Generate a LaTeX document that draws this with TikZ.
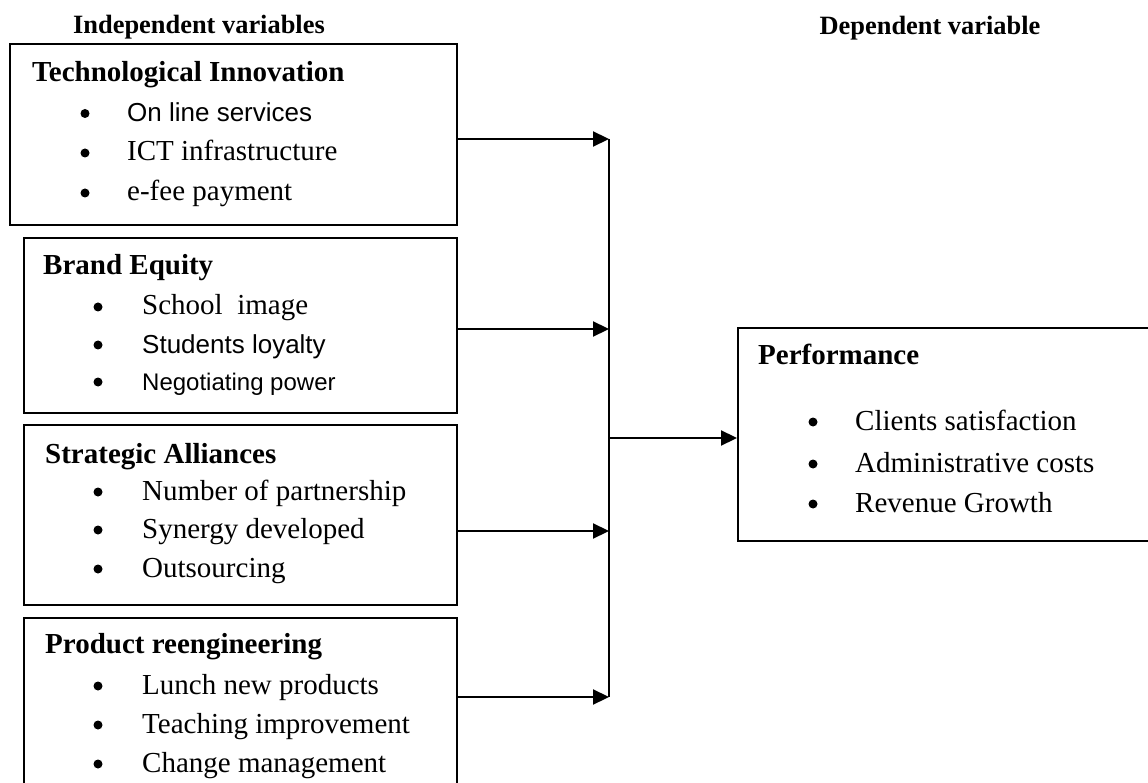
\documentclass[tikz,border=0pt]{standalone}
\usepackage{fontspec}
\setmainfont{Liberation Serif}
\newfontfamily\arialfont{Liberation Sans}
\usetikzlibrary{arrows.meta}
\begin{document}
\begin{tikzpicture}[x=1pt,y=-1pt,
  panel/.style={draw, line width=1.7pt, inner sep=0pt, anchor=north west},
  head/.style={anchor=base, font=\fontsize{26.4}{30}\selectfont\bfseries, inner sep=0pt},
  title/.style={anchor=base west, font=\fontsize{29}{34}\selectfont\bfseries, inner sep=0pt},
  itm/.style={anchor=base west, font=\fontsize{29}{34}\selectfont, inner sep=0pt},
  sitm/.style={anchor=base west, font=\arialfont\fontsize{26}{30}\selectfont, inner sep=0pt},
  blt/.style={circle, fill, inner sep=0pt, minimum size=9pt, yshift=8pt},
  feed/.style={line width=2.2pt, -{Triangle[length=16pt,width=15pt]}},
  bus/.style={line width=1.8pt},
]
\fill[white] (0,0) rectangle (1148,783);
\clip (0,0) rectangle (1148,783);

% column headings
\node[head] (hind) at (199,34) {Independent variables};
\node[head] (hdep) at (930,35) {Dependent variable};

% independent variable panels
\node[panel, minimum width=447pt, minimum height=181pt] (b1) at (9,43) {};
\node[panel, minimum width=433pt, minimum height=175pt] (b2) at (23,237) {};
\node[panel, minimum width=433pt, minimum height=180pt] (b3) at (23,424) {};
\node[panel, minimum width=433pt, minimum height=190pt] (b4) at (23,617) {};

% dependent variable panel
\node[panel, minimum width=430pt, minimum height=213pt] (perf) at (737,327) {};

% Technological Innovation
\node[title] (t1) at (32,82) {Technological Innovation};
\node[blt] (d11) at (85,121.5) {};
\node[sitm] (i11) at (127,121.5) {On line services};
\node[blt] (d12) at (85,161) {};
\node[itm] (i12) at (127,161) {ICT infrastructure};
\node[blt] (d13) at (85,201) {};
\node[itm] (i13) at (127,201) {e-fee payment};

% Brand Equity
\node[title] (t2) at (43,275) {Brand Equity};
\node[blt] (d21) at (98,315) {};
\node[itm] (i21) at (142,315) {School\ \ image};
\node[blt] (d22) at (98,353) {};
\node[sitm] (i22) at (142,353) {Students loyalty};
\node[blt] (d23) at (98,390) {};
\node[sitm, font=\arialfont\fontsize{24}{28}\selectfont] (i23) at (142,390) {Negotiating power};

% Strategic Alliances
\node[title] (t3) at (45,463) {Strategic Alliances};
\node[blt] (d31) at (98,500) {};
\node[itm] (i31) at (142,500) {Number of partnership};
\node[blt] (d32) at (98,538) {};
\node[itm] (i32) at (142,538) {Synergy developed};
\node[blt] (d33) at (98,577) {};
\node[itm] (i33) at (142,577) {Outsourcing};

% Product reengineering
\node[title] (t4) at (45,653) {Product reengineering};
\node[blt] (d41) at (98,694) {};
\node[itm] (i41) at (142,694) {Lunch new products};
\node[blt] (d42) at (98,733) {};
\node[itm] (i42) at (142,733) {Teaching improvement};
\node[blt] (d43) at (98,772) {};
\node[itm] (i43) at (142,772) {Change management};

% Performance
\node[title] (t5) at (758,365) {Performance};
\node[blt] (d51) at (813,430) {};
\node[itm] (i51) at (855,430) {Clients satisfaction};
\node[blt] (d52) at (813,472) {};
\node[itm] (i52) at (855,472) {Administrative costs};
\node[blt] (d53) at (813,512) {};
\node[itm] (i53) at (855,512) {Revenue Growth};

% collecting bus
\coordinate (j1) at (609,139);
\coordinate (j2) at (609,329);
\coordinate (j3) at (609,531);
\coordinate (j4) at (609,697);
\coordinate (jp) at (609,438);

\draw[feed] (b1.east |- j1) -- (j1);
\draw[feed] (b2.east |- j2) -- (j2);
\draw[feed] (b3.east |- j3) -- (j3);
\draw[feed] (b4.east |- j4) -- (j4);
\draw[bus] (j1) -- (j4);
\draw[feed] (jp) -- (perf.west |- jp);
\end{tikzpicture}
\end{document}
